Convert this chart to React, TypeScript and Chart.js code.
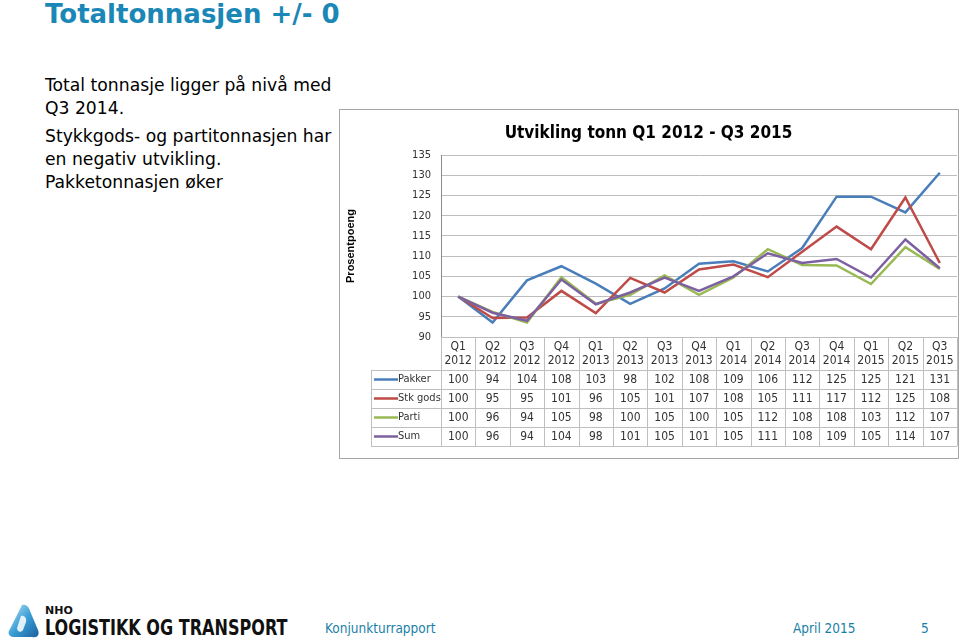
import React, { useEffect, useRef } from "react";
import { Chart, registerables } from "chart.js";

Chart.register(...registerables);

const quarters = ["Q1", "Q2", "Q3", "Q4", "Q1", "Q2", "Q3", "Q4", "Q1", "Q2", "Q3", "Q4", "Q1", "Q2", "Q3"];
const years = ["2012", "2012", "2012", "2012", "2013", "2013", "2013", "2013", "2014", "2014", "2014", "2014", "2015", "2015", "2015"];

const pakker = [100, 93.6, 104, 107.5, 103.2, 98.2, 102, 108.1, 108.7, 106.2, 112, 124.7, 124.7, 120.8, 130.6];
const stkGods = [100, 94.7, 94.8, 101.4, 95.9, 104.6, 101, 106.7, 107.9, 104.8, 111.1, 117.3, 111.7, 124.5, 108.3];
const parti = [100, 96.2, 93.6, 104.8, 98.2, 100.4, 105.2, 100.4, 104.7, 111.7, 107.8, 107.7, 103.1, 112.2, 106.8];
const sum = [100, 96, 94, 104.2, 98.1, 101, 104.7, 101.4, 105, 110.7, 108.3, 109.3, 104.7, 114.1, 107];

const seriesNames = ["Pakker", "Stk gods", "Parti", "Sum"];
const seriesColors = ["#4a7ebb", "#be4b48", "#98b954", "#7d60a0"];
const seriesData = [pakker, stkGods, parti, sum];

const yTicksMin = 90;
const yTicksMax = 135;
const yStep = 5;

const chartTitle = "Utvikling tonn Q1 2012 - Q3 2015";
const yTitle = "Prosentpoeng";

const tableFont = "'Liberation Sans Narrow', 'DejaVu Sans Condensed', 'Liberation Sans', sans-serif";

const tablePlugin = {
  id: "dataTable",
  afterDraw(chart: any) {
    const ctx = chart.ctx;
    const area = chart.chartArea;
    const xs = chart.scales.x;
    const n = quarters.length;
    const colW = (area.right - area.left) / n;
    const headerBottom = area.bottom + 33;
    const rowH = 19;
    const tableLeft = 31;
    const tableBottom = headerBottom + rowH * seriesNames.length;
    ctx.save();
    ctx.strokeStyle = "#bfbfbf";
    ctx.lineWidth = 1;
    for (let i = 0; i <= n; i++) {
      const x = Math.round(area.left + i * colW) + 0.5;
      ctx.beginPath();
      ctx.moveTo(x, area.bottom);
      ctx.lineTo(x, tableBottom);
      ctx.stroke();
    }
    ctx.beginPath();
    ctx.moveTo(tableLeft + 0.5, headerBottom);
    ctx.lineTo(tableLeft + 0.5, tableBottom);
    ctx.stroke();
    for (let r = 0; r <= seriesNames.length; r++) {
      const y = Math.round(headerBottom + r * rowH) + 0.5;
      ctx.beginPath();
      ctx.moveTo(tableLeft, y);
      ctx.lineTo(area.right, y);
      ctx.stroke();
    }
    ctx.fillStyle = "#333";
    ctx.font = "12px " + tableFont;
    ctx.textAlign = "center";
    ctx.textBaseline = "middle";
    for (let i = 0; i < n; i++) {
      const x = xs.getPixelForValue(i);
      ctx.fillText(quarters[i], x, area.bottom + 10);
      ctx.fillText(years[i], x, area.bottom + 24);
    }
    for (let r = 0; r < seriesNames.length; r++) {
      const yc = headerBottom + r * rowH + rowH / 2;
      ctx.strokeStyle = seriesColors[r];
      ctx.lineWidth = 2.5;
      ctx.beginPath();
      ctx.moveTo(tableLeft + 3, yc);
      ctx.lineTo(tableLeft + 27, yc);
      ctx.stroke();
      ctx.fillStyle = "#333";
      ctx.textAlign = "left";
      ctx.font = "11px " + tableFont;
      ctx.fillText(seriesNames[r], tableLeft + 27, yc);
      ctx.font = "12px " + tableFont;
      ctx.textAlign = "center";
      const vals = seriesData[r];
      for (let i = 0; i < n; i++) {
        ctx.fillText(String(Math.round(vals[i])), xs.getPixelForValue(i), yc);
      }
    }
    ctx.restore();
  },
};

function LineChart() {
  const ref = useRef<HTMLCanvasElement>(null);
  useEffect(() => {
    if (!ref.current) return;
    const chart = new Chart(ref.current, {
      type: "line",
      data: {
        labels: quarters.map((q, i) => q + " " + years[i]),
        datasets: seriesNames.map((name, i) => ({
          label: name,
          data: seriesData[i],
          borderColor: seriesColors[i],
          backgroundColor: seriesColors[i],
          borderWidth: 2.5,
          pointRadius: 0,
          tension: 0,
          order: 4 - i,
        })),
      },
      options: {
        animation: false,
        responsive: false,
        maintainAspectRatio: false,
        layout: { padding: { left: 0, right: 1, top: 0, bottom: 121 } },
        plugins: {
          legend: { display: false },
          tooltip: { enabled: false },
          title: {
            display: true,
            text: chartTitle,
            color: "#000",
            font: { size: 17, weight: "bold", family: tableFont, lineHeight: 1.2 },
            padding: { top: 13.5, bottom: 11.1 },
          },
        },
        scales: {
          x: { display: false, offset: true },
          y: {
            min: yTicksMin,
            max: yTicksMax,
            ticks: { stepSize: yStep, padding: 10, color: "#333", font: { size: 11, family: tableFont } },
            grid: { color: "#bdbdbd", drawTicks: false },
            border: { color: "#8c8c8c" },
            title: {
              display: true,
              text: yTitle,
              color: "#000",
              font: { size: 11, weight: "bold", family: "'Liberation Sans', sans-serif", lineHeight: 1.2 },
              padding: { top: 4, bottom: 0 },
            },
            afterFit(scale: any) {
              scale.width = 101;
            },
          },
        },
      },
      plugins: [tablePlugin],
    });
    return () => chart.destroy();
  }, []);
  return <canvas ref={ref} width={618} height={348} style={{ display: "block" }} />;
}

function Logo() {
  return (
    <div style={{ position: "absolute", left: 8, top: 604, width: 290, height: 36 }}>
      <svg width="32" height="34" viewBox="0 0 32 34" style={{ position: "absolute", left: 0, top: 0 }}>
        <defs>
          <linearGradient id="lg" x1="0" y1="0" x2="1" y2="1">
            <stop offset="0" stopColor="#bfe3f5" />
            <stop offset="0.5" stopColor="#3b9fd6" />
            <stop offset="1" stopColor="#1b5f9e" />
          </linearGradient>
        </defs>
        <path d="M14 1 C18 0 21 3 22 7 L30 26 C32 31 29 34 24 33 L6 33 C1 33 -1 29 2 25 Z" fill="url(#lg)" />
        <path d="M13 12 C16 11 19 14 18 18 L15 26 C13 29 9 28 9 24 Z" fill="#ffffff" opacity="0.85" />
      </svg>
      <div style={{ position: "absolute", left: 37, top: 1, fontFamily: "'DejaVu Sans', sans-serif", fontSize: 11, fontWeight: "bold", color: "#111", lineHeight: "12px" }}>NHO</div>
      <div
        style={{
          position: "absolute",
          left: 37,
          top: 13,
          fontFamily: "'DejaVu Sans Condensed', 'DejaVu Sans', sans-serif",
          fontSize: 21,
          fontWeight: "bold",
          color: "#111",
          lineHeight: "22px",
          whiteSpace: "nowrap",
          transform: "scaleX(0.85)",
          transformOrigin: "left center",
        }}
      >
        LOGISTIKK OG TRANSPORT
      </div>
    </div>
  );
}

export default function App() {
  const bodyFont = "'DejaVu Sans', Verdana, sans-serif";
  const footFont = "'DejaVu Sans Condensed', 'DejaVu Sans', sans-serif";
  return (
    <div style={{ position: "absolute", left: 0, top: 0, width: 960, height: 641, background: "#fff", overflow: "hidden" }}>
      <div style={{ position: "absolute", left: 45, top: -1, fontFamily: bodyFont, fontSize: 26, fontWeight: "bold", color: "#1a87b6", lineHeight: "30px", whiteSpace: "nowrap" }}>
        Totaltonnasjen +/- 0
      </div>
      <div style={{ position: "absolute", left: 45, top: 74, fontFamily: bodyFont, fontSize: 17.2, color: "#000", lineHeight: "22.7px", width: 300, whiteSpace: "nowrap" }}>
        <div>Total tonnasje ligger på nivå med</div>
        <div>Q3 2014.</div>
        <div style={{ marginTop: 5.7 }}>Stykkgods- og partitonnasjen har</div>
        <div>en negativ utvikling.</div>
        <div>Pakketonnasjen øker</div>
      </div>
      <div style={{ position: "absolute", left: 339, top: 109, width: 618, height: 348, border: "1px solid #a6a6a6", background: "#fff" }}>
        <LineChart />
      </div>
      <Logo />
      <div style={{ position: "absolute", left: 325, top: 619, fontFamily: footFont, fontSize: 13.5, color: "#1a7fa8", lineHeight: "18px" }}>Konjunkturrapport</div>
      <div style={{ position: "absolute", left: 793, top: 619, fontFamily: footFont, fontSize: 13.5, color: "#1a7fa8", lineHeight: "18px" }}>April 2015</div>
      <div style={{ position: "absolute", left: 921, top: 619, fontFamily: footFont, fontSize: 13.5, color: "#1a7fa8", lineHeight: "18px" }}>5</div>
    </div>
  );
}
